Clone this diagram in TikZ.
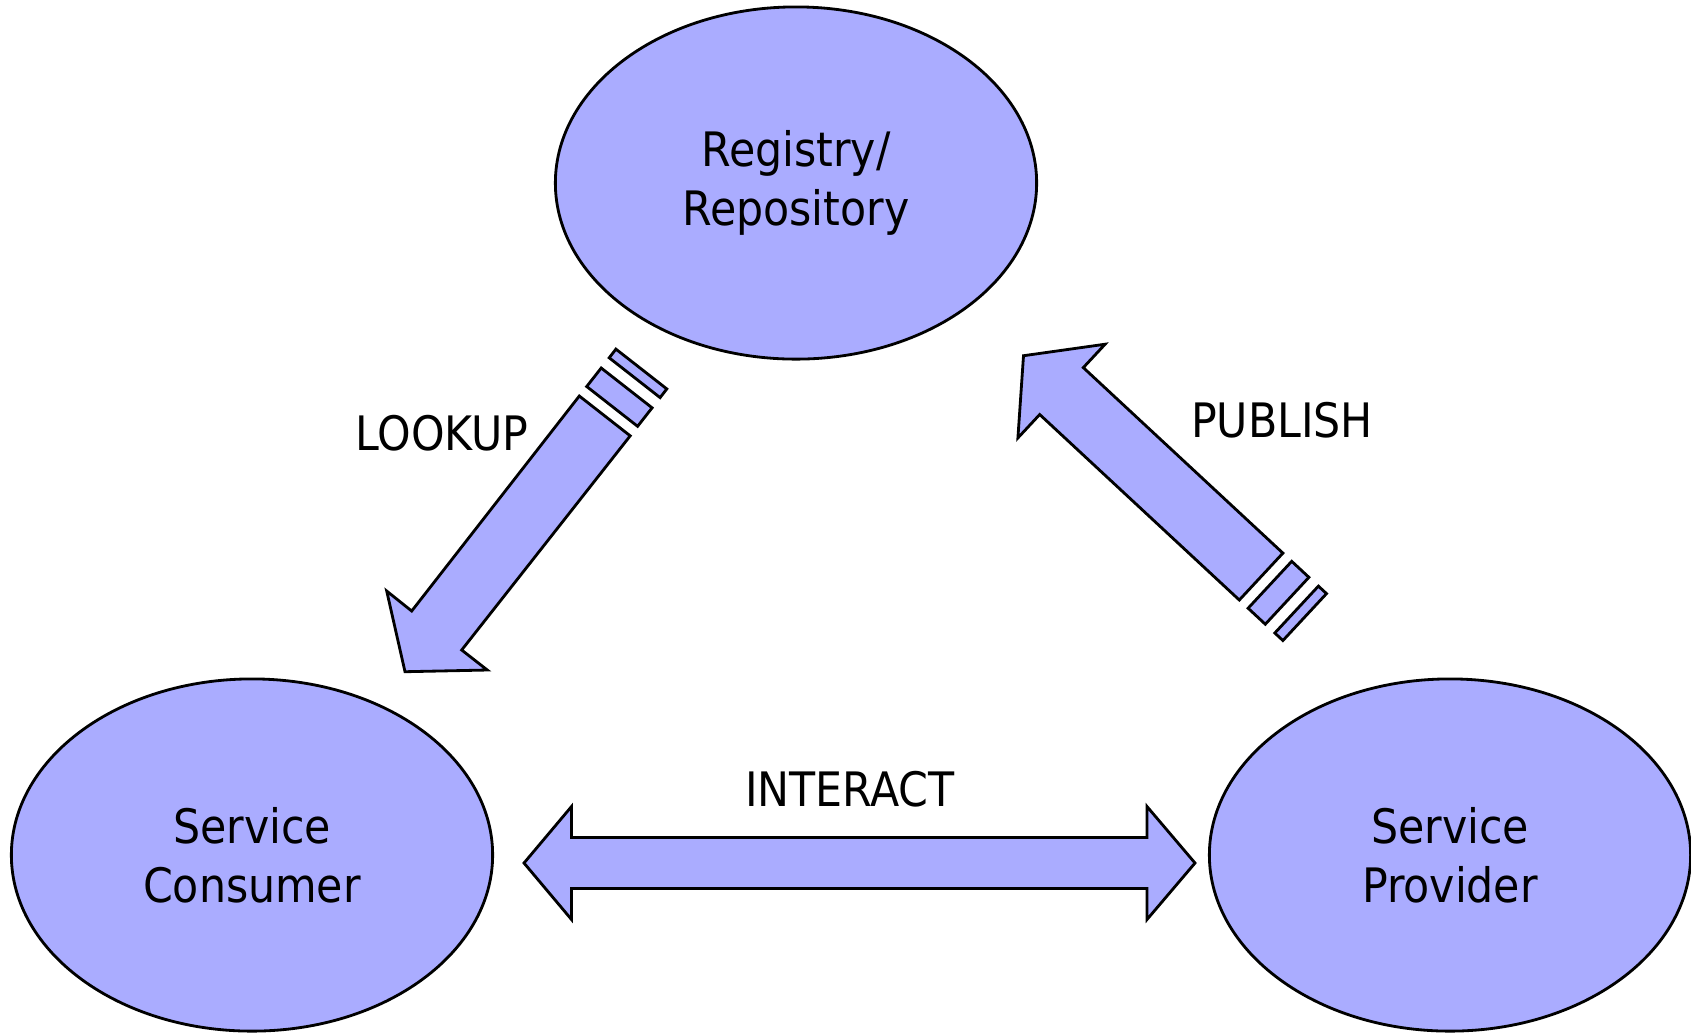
\documentclass[tikz,border=0pt]{standalone}
\usepackage{fontspec}
\setmainfont{DejaVu Sans Condensed}
\usetikzlibrary{shapes.geometric}
\definecolor{rolefill}{RGB}{170,172,255}

\begin{document}
\begin{tikzpicture}[x=0.01cm, y=-0.01cm,
	role/.style={ellipse, draw=black, thick, fill=rolefill, minimum width=4.81cm, minimum height=3.52cm, inner sep=0pt, align=center, font=\fontsize{13.5}{16.8}\selectfont},
	verb/.style={font=\fontsize{13.5}{16}\selectfont},
	blockarrow/.style={draw=black, thick, fill=rolefill, line join=miter}]
	\useasboundingbox (0,0) rectangle (1691,1032);
	\node[role] (registry) at (796,183) {Registry/\\Repository};
	\node[role] (consumer) at (252,855) {Service\\Consumer};
	\node[role] (provider) at (1450,855) {Service\\Provider};
	% lookup arrow, broken tail
	\draw[blockarrow] (579.3,396) -- (630.2,435.8) -- (461.7,650) -- (487.3,670) -- (405,671.7) -- (386.7,591) -- (411.7,611) -- cycle;
	\draw[blockarrow] (586.7,386.5) -- (601.2,368.0) -- (652.1,407.8) -- (637.6,426.3) -- cycle;
	\draw[blockarrow] (609.2,357.8) -- (615.9,349.1) -- (666.8,388.9) -- (660.1,397.6) -- cycle;
	% publish arrow, broken tail
	\draw[blockarrow] (1239.3,600) -- (1282.9,553.1) -- (1083.3,367.6) -- (1105.1,344.2) -- (1023.5,355.7) -- (1017.9,437.9) -- (1039.7,414.5) -- cycle;
	\draw[blockarrow] (1248.1,608.2) -- (1265.3,624.2) -- (1308.9,577.3) -- (1291.7,561.3) -- cycle;
	\draw[blockarrow] (1274.8,633.0) -- (1282.9,640.5) -- (1326.5,593.6) -- (1318.4,586.1) -- cycle;
	% interact arrow
	\draw[blockarrow] (524,863) -- (571.5,806.5) -- (571.5,837.5) -- (1147,837.5) -- (1147,806.5) -- (1195,863) -- (1147,919.5) -- (1147,888.5) -- (571.5,888.5) -- (571.5,919.5) -- cycle;
	\node[verb] (lookup) at (442,433.5) {LOOKUP};
	\node[verb] (publish) at (1282,420.6) {PUBLISH};
	\node[verb] (interact) at (850,789.4) {INTERACT};
\end{tikzpicture}
\end{document}
